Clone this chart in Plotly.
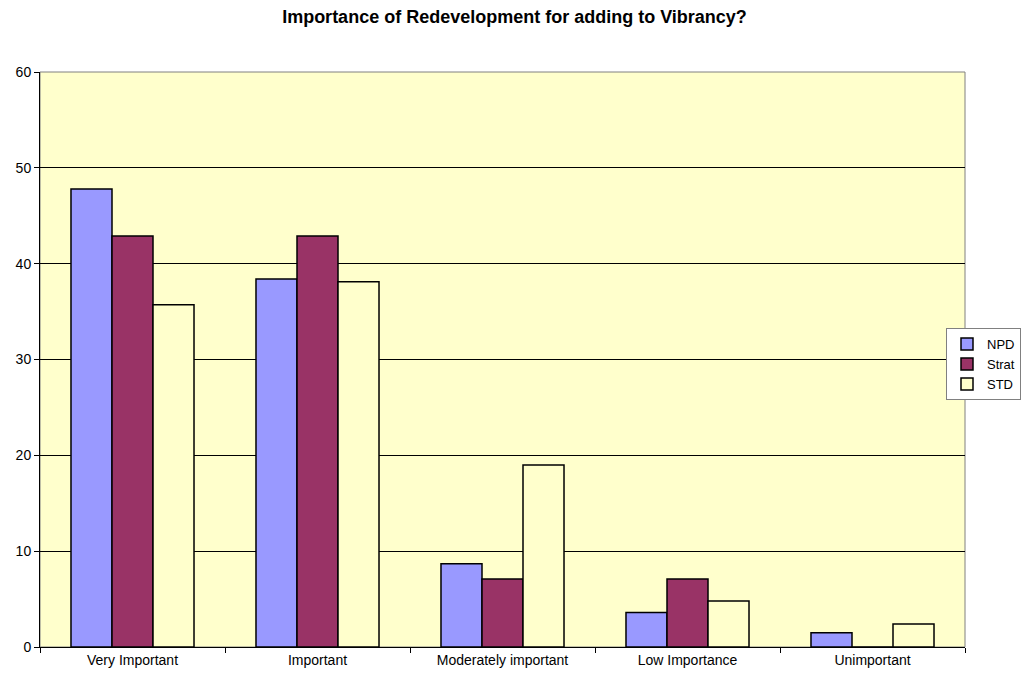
import plotly.graph_objects as go

# data
categories = ['Very Important', 'Important', 'Moderately important', 'Low Importance', 'Unimportant']
npd = [47.8, 38.4, 8.7, 3.6, 1.5]
strat = [42.9, 42.9, 7.1, 7.1, 0]
std = [35.7, 38.1, 19.0, 4.8, 2.4]

series = [('NPD', npd, '#9999ff'), ('Strat', strat, '#993366'), ('STD', std, '#ffffcc')]

# page body adds an 8px offset, so the figure is drawn 16px smaller than the window
W, H = 1013, 662

fig = go.Figure()
for name, vals, colour in series:
    fig.add_trace(go.Bar(
        x=categories, y=vals, name=name,
        marker=dict(color=colour, line=dict(color='black', width=1.5))))

fig.update_layout(
    title=dict(text='<b>Importance of Redevelopment for adding to Vibrancy?</b>',
               x=0.5, xref='container', xanchor='center',
               y=0.996, yref='container', yanchor='top',
               font=dict(size=18, color='black')),
    font=dict(family='Liberation Sans, Arial, sans-serif', size=14, color='black'),
    width=W, height=H,
    margin=dict(l=32, r=56, t=64, b=23, autoexpand=False),
    paper_bgcolor='white', plot_bgcolor='#ffffcc',
    barmode='group', bargap=0.335, bargroupgap=0,
    showlegend=True,
    legend=dict(x=1.008, xref='container', xanchor='right',
                y=0.462, yref='container', yanchor='middle',
                bordercolor='#808080', borderwidth=1, bgcolor='white',
                font=dict(size=13), tracegroupgap=0, itemwidth=30),
)
fig.update_xaxes(showline=True, linecolor='black', linewidth=1, mirror=False,
                 ticks='outside', tickson='boundaries', ticklen=5, tickcolor='black',
                 tickfont=dict(size=14))
fig.update_yaxes(range=[0, 60], dtick=10, showgrid=True, gridcolor='black', gridwidth=1,
                 showline=True, linecolor='black', linewidth=1,
                 ticks='outside', ticklen=5, tickcolor='black', zeroline=False,
                 tickfont=dict(size=14))
# gray frame on top and right like the original
fig.add_shape(type='rect', xref='paper', yref='paper', x0=0, x1=1, y0=0, y1=1,
              line=dict(color='#808080', width=1), layer='below')

fig.write_html('out.html')
